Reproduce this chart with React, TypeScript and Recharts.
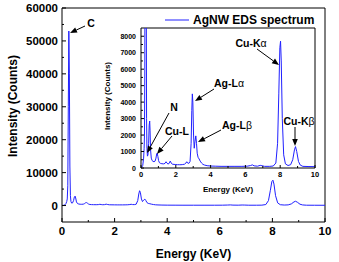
import { Line, LineChart, ReferenceLine, XAxis, YAxis } from "recharts";

// spectrum (energy in keV, intensity in counts)
const energyKeV = [
  0, 0.05, 0.1, 0.15, 0.18, 0.2, 0.22, 0.24, 0.26, 0.28, 0.3, 0.32, 0.34, 0.37,
  0.4, 0.44, 0.47, 0.5, 0.52, 0.55, 0.59, 0.64, 0.69, 0.75, 0.81, 0.86, 0.9,
  0.93, 0.97, 1.01, 1.06, 1.12, 1.2, 1.3, 1.38, 1.44, 1.49, 1.55, 1.62, 1.68,
  1.74, 1.8, 1.9, 2.0, 2.1, 2.2, 2.3, 2.4, 2.5, 2.58, 2.63, 2.68, 2.75, 2.82,
  2.88, 2.92, 2.95, 2.98, 3.02, 3.06, 3.1, 3.15, 3.19, 3.23, 3.28, 3.34, 3.4,
  3.48, 3.56, 3.65, 3.8, 4.0, 4.3, 4.6, 5.0, 5.4, 5.8, 6.1, 6.3, 6.4, 6.5, 6.7,
  6.85, 6.95, 7.1, 7.4, 7.6, 7.75, 7.85, 7.92, 7.98, 8.02, 8.06, 8.12, 8.2, 8.3,
  8.45, 8.6, 8.72, 8.82, 8.88, 8.95, 9.05, 9.15, 9.3, 9.6, 10.0,
];
const counts = [
  50, 60, 150, 600, 1200, 2000, 6000, 30000, 53000, 40000, 12000, 3000, 1200,
  720, 800, 1500, 2600, 2850, 2300, 1100, 600, 450, 400, 380, 420, 600, 850,
  900, 700, 450, 320, 280, 260, 250, 280, 380, 300, 240, 280, 420, 300, 230,
  220, 210, 200, 200, 200, 210, 230, 300, 380, 300, 280, 400, 1500, 3500, 4500,
  4000, 2000, 1200, 1600, 1950, 1500, 900, 650, 550, 420, 300, 220, 180, 140,
  120, 110, 100, 100, 100, 100, 110, 150, 190, 130, 110, 160, 140, 100, 100,
  120, 300, 1500, 4500, 7300, 7700, 6500, 3000, 800, 250, 150, 200, 500, 1100,
  1300, 1000, 400, 180, 100, 90, 80,
];

const xTicks = [0, 1, 2, 3, 4, 5, 6, 7, 8, 9, 10];
const xLabels = [0, 2, 4, 6, 8, 10];
const mainYTicks = [0, 5000, 10000, 15000, 20000, 25000, 30000, 35000, 40000, 45000, 50000, 55000, 60000];
const mainYLabels = [0, 10000, 20000, 30000, 40000, 50000, 60000];
const insetYTicks = [0, 500, 1000, 1500, 2000, 2500, 3000, 3500, 4000, 4500, 5000, 5500, 6000, 6500, 7000, 7500, 8000];
const insetYLabels = [0, 1000, 2000, 3000, 4000, 5000, 6000, 7000, 8000];

const spectrum = energyKeV.map((e, i) => ({ energy: e, counts: counts[i] }));

const FONT = '"Liberation Sans", Arial, sans-serif';
const BLUE = "#2020ff";

function Tick(props: any) {
  const { x, y, payload, side, labels, major, minor, size, gap } = props;
  const v = payload.value;
  const isMajor = labels.includes(v);
  const len = isMajor ? major : minor;
  if (side === "x") {
    return (
      <g>
        <line x1={x} x2={x} y1={y} y2={y - len} stroke="#000" />
        {isMajor && (
          <text x={x} y={y + gap} textAnchor="middle" dominantBaseline="central"
            fontSize={size} fontWeight="bold" fontFamily={FONT} fill="#000">{v}</text>
        )}
      </g>
    );
  }
  return (
    <g>
      <line x1={x} x2={x + len} y1={y} y2={y} stroke="#000" />
      {isMajor && (
        <text x={x - gap} y={y} textAnchor="end" dominantBaseline="central"
          fontSize={size} fontWeight="bold" fontFamily={FONT} fill="#000">{v}</text>
      )}
    </g>
  );
}

function xTitle(text: string, dy: number, size: number) {
  return (p: any) => {
    const vb = p.viewBox;
    return (
      <text x={vb.x + vb.width / 2} y={vb.y + dy} textAnchor="middle" dominantBaseline="central"
        fontSize={size} fontWeight="bold" fontFamily={FONT} fill="#000">{text}</text>
    );
  };
}

function yTitle(text: string, cx: number, shift: number, size: number) {
  return (p: any) => {
    const vb = p.viewBox;
    const x = vb.x + cx;
    const y = vb.y + vb.height / 2 + shift;
    return (
      <text x={x} y={y} transform={`rotate(-90, ${x}, ${y})`} textAnchor="middle" dominantBaseline="central"
        fontSize={size} fontWeight="bold" fontFamily={FONT} fill="#000">{text}</text>
    );
  };
}

const notes = [
  { text: "C", greek: "", tx: 91, ty: 23, from: [85, 26], to: [70, 33] },
  { text: "N", greek: "", tx: 174, ty: 107, from: [169, 113], to: [147, 153] },
  { text: "Cu-L", greek: "", tx: 177, ty: 131, from: [172, 136], to: [157, 154] },
  { text: "Ag-L", greek: "α", tx: 229, ty: 83, from: [214, 89], to: [195, 101] },
  { text: "Ag-L", greek: "β", tx: 237, ty: 125, from: [221, 130], to: [198, 142] },
  { text: "Cu-K", greek: "α", tx: 251, ty: 43, from: [257, 49], to: [279, 65] },
  { text: "Cu-K", greek: "β", tx: 299, ty: 121, from: [295, 127], to: [295, 146] },
];

function Arrow({ from, to }: { from: number[]; to: number[] }) {
  const [x1, y1] = from;
  const [x2, y2] = to;
  const L = Math.hypot(x2 - x1, y2 - y1);
  const ux = (x2 - x1) / L;
  const uy = (y2 - y1) / L;
  const head = 7;
  const half = 2.8;
  const bx = x2 - ux * head;
  const by = y2 - uy * head;
  return (
    <g>
      <line x1={x1} y1={y1} x2={bx} y2={by} stroke="#000" strokeWidth={1} />
      <polygon
        points={`${x2},${y2} ${bx - uy * half},${by + ux * half} ${bx + uy * half},${by - ux * half}`}
        fill="#000"
      />
    </g>
  );
}

export default function App() {
  return (
    <div style={{ position: "absolute", left: 0, top: 0, width: 339, height: 262, background: "#fff" }}>
      <LineChart width={339} height={262} data={spectrum} margin={{ top: 8, right: 14, left: 0, bottom: 0 }}>
        <XAxis dataKey="energy" type="number" domain={[0, 10]} ticks={xTicks} interval={0}
          height={40} tickSize={0} tickMargin={0} axisLine={{ stroke: "#000" }} tickLine={false}
          tick={<Tick side="x" labels={xLabels} major={4} minor={2} size={11.5} gap={9} />}
          label={{ content: xTitle("Energy (KeV)", 32, 12) }} />
        <YAxis type="number" domain={[-5000, 60000]} ticks={mainYTicks} interval={0} allowDataOverflow
          width={62} tickSize={0} tickMargin={0} axisLine={{ stroke: "#000" }} tickLine={false}
          tick={<Tick side="y" labels={mainYLabels} major={4} minor={2} size={11.5} gap={4} />}
          label={{ content: yTitle("Intensity (Counts)", 12.5, -9, 12) }} />
        <ReferenceLine y={60000} stroke="#000" />
        <ReferenceLine x={10} stroke="#000" />
        <Line dataKey="counts" type="linear" stroke={BLUE} strokeWidth={1} dot={false} isAnimationActive={false} />
      </LineChart>

      <div style={{ position: "absolute", left: 95, top: 25 }}>
        <LineChart width={225} height={172} data={spectrum} margin={{ top: 3, right: 5, left: 0, bottom: 0 }}>
          <XAxis dataKey="energy" type="number" domain={[0, 10]} ticks={xTicks} interval={0}
            height={29} tickSize={0} tickMargin={0} axisLine={{ stroke: "#000" }} tickLine={false}
            tick={<Tick side="x" labels={xLabels} major={3} minor={2} size={7.5} gap={6} />}
            label={{ content: xTitle("Energy (KeV)", 21, 8) }} />
          <YAxis type="number" domain={[0, 8500]} ticks={insetYTicks} interval={0} allowDataOverflow
            width={46} tickSize={0} tickMargin={0} axisLine={{ stroke: "#000" }} tickLine={false}
            tick={<Tick side="y" labels={insetYLabels} major={3} minor={2} size={7} gap={5} />}
            label={{ content: yTitle("Intensity (Counts)", 12, -2, 8) }} />
          <ReferenceLine y={8500} stroke="#000" />
          <ReferenceLine x={10} stroke="#000" />
          <Line dataKey="counts" type="linear" stroke={BLUE} strokeWidth={1} dot={false} isAnimationActive={false} />
        </LineChart>
      </div>

      <svg width={339} height={262} style={{ position: "absolute", left: 0, top: 0, pointerEvents: "none" }}>
        <line x1={165} x2={189} y1={20} y2={20} stroke={BLUE} strokeWidth={1} />
        <text x={193} y={20} dominantBaseline="central" fontSize={12} fontWeight="bold" fontFamily={FONT} fill="#000">
          AgNW EDS spectrum
        </text>
        {notes.map((n, i) => (
          <g key={i}>
            <Arrow from={n.from} to={n.to} />
            <text x={n.tx} y={n.ty} textAnchor="middle" dominantBaseline="central"
              fontSize={10.5} fontWeight="bold" fontFamily={FONT} fill="#000">
              {n.text}
              {n.greek && <tspan fontWeight="normal">{n.greek}</tspan>}
            </text>
          </g>
        ))}
      </svg>
    </div>
  );
}
